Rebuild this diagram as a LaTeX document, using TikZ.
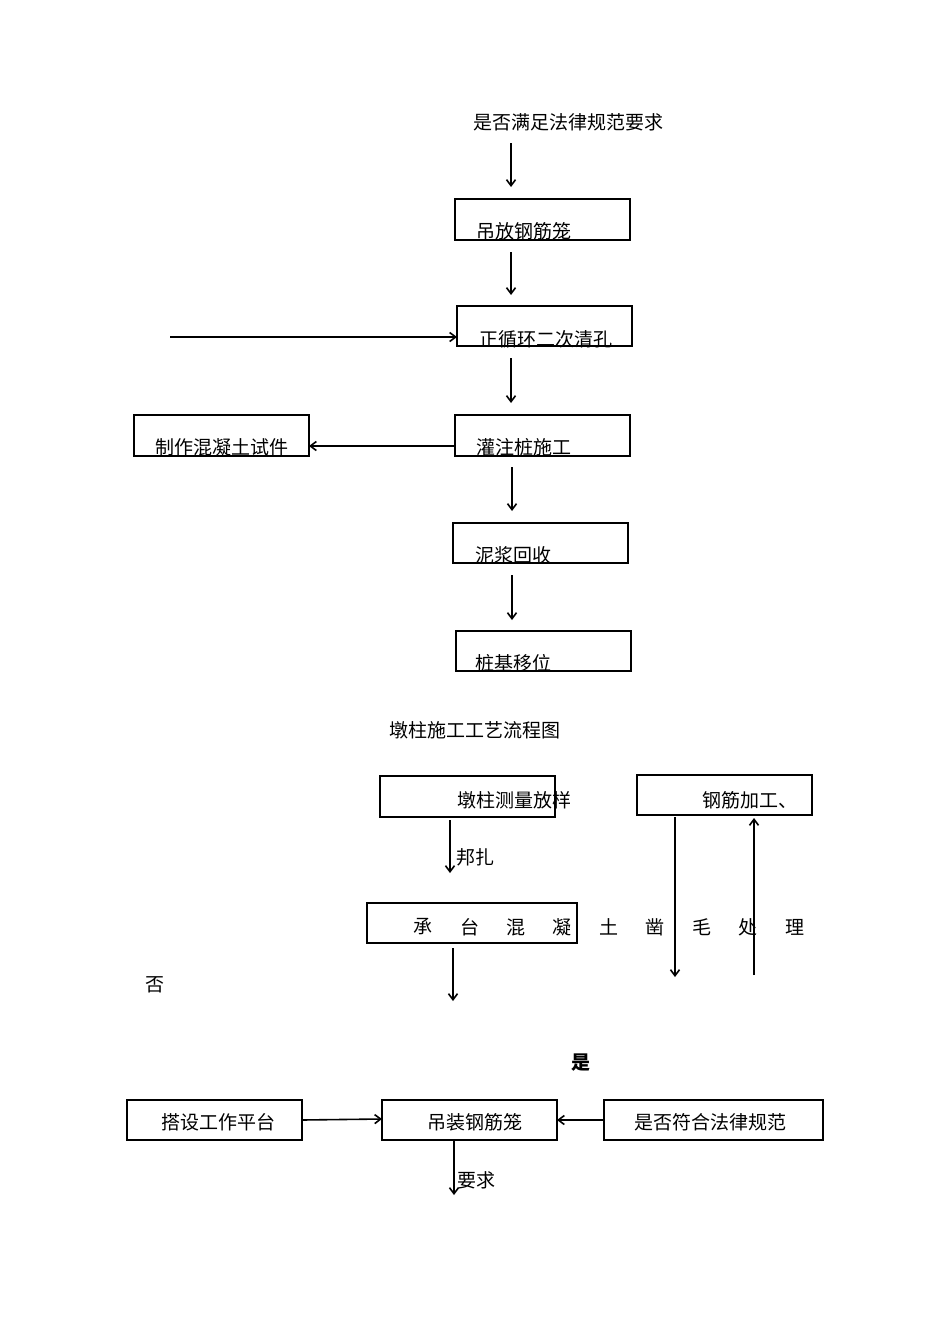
\documentclass[tikz,border=0pt]{standalone}
\usepackage{fontspec}
\newfontfamily\cjk{Noto Sans CJK SC}
\usetikzlibrary{arrows.meta}
\begin{document}
\begin{tikzpicture}[x=1pt,y=-1pt,
 bx/.style={draw,line width=1.2pt,inner sep=0pt},
 tx/.style={font=\cjk\fontsize{19}{19}\selectfont,inner sep=0pt},
 ar/.style={line width=1.6pt,-{Straight Barb[length=6pt,width=9pt]}}]
\useasboundingbox (0,0) rectangle (950,1344);
\node[tx] (t0) at (568,122) {是否满足法律规范要求};
\draw[bx] (455,199) rectangle (630,240); \node[tx] (b1) at (524,231) {吊放钢筋笼};
\draw[bx] (457,306) rectangle (632,346); \node[tx] (b2) at (546,339) {正循环二次清孔};
\draw[bx] (455,415) rectangle (630,456); \node[tx] (b3) at (524,447) {灌注桩施工};
\draw[bx] (134,415) rectangle (309,456); \node[tx] (b4) at (222,447) {制作混凝土试件};
\draw[bx] (453,523) rectangle (628,563); \node[tx] (b5) at (513,555) {泥浆回收};
\draw[bx] (456,631) rectangle (631,671); \node[tx] (b6) at (513,663) {桩基移位};
\coordinate (s0) at (170,337);
\draw[ar] (511,143) -- (511,187);
\draw[ar] (511,252) -- (511,295);
\draw[ar] (s0) -- (457,337);
\draw[ar] (511,358) -- (511,403);
\draw[ar] (455,446) -- (309,446);
\draw[ar] (512,467) -- (512,511);
\draw[ar] (512,575) -- (512,620);
\node[tx] (title) at (475,730) {墩柱施工工艺流程图};
\draw[bx] (380,776) rectangle (555,817); \node[tx] (c1) at (514,800) {墩柱测量放样};
\draw[bx] (637,775) rectangle (812,815); \node[tx] (c2) at (750,800) {钢筋加工、};
\draw[ar] (450,820) -- (450,873);
\node[tx] (bz) at (475,857) {邦扎};
\draw[bx] (367,903) rectangle (577,943);
\foreach \x/\c in {423/承,470/台,516/混,562/凝,609/土,655/凿,702/毛,748/处,795/理}
  \node[tx] at (\x,927) {\c};
\draw[ar] (453,948) -- (453,1001);
\draw[ar] (675,817) -- (675,977);
\draw[ar] (754,975) -- (754,818);
\node[tx] (no) at (155,985) {否};
\node[tx,font=\cjk\bfseries\fontsize{19}{19}\selectfont] (yes) at (581,1063) {是};
\draw[bx] (127,1100) rectangle (302,1140); \node[tx] (d1) at (218,1122) {搭设工作平台};
\draw[bx] (382,1100) rectangle (557,1140); \node[tx] (d2) at (475,1122) {吊装钢筋笼};
\draw[bx] (604,1100) rectangle (823,1140); \node[tx] (d3) at (710,1122) {是否符合法律规范};
\draw[ar] (302,1120) -- (382,1119);
\draw[ar] (604,1120) -- (557,1120);
\draw[ar] (454,1140) -- (454,1195);
\node[tx] (yq) at (476,1180) {要求};
\end{tikzpicture}
\end{document}
